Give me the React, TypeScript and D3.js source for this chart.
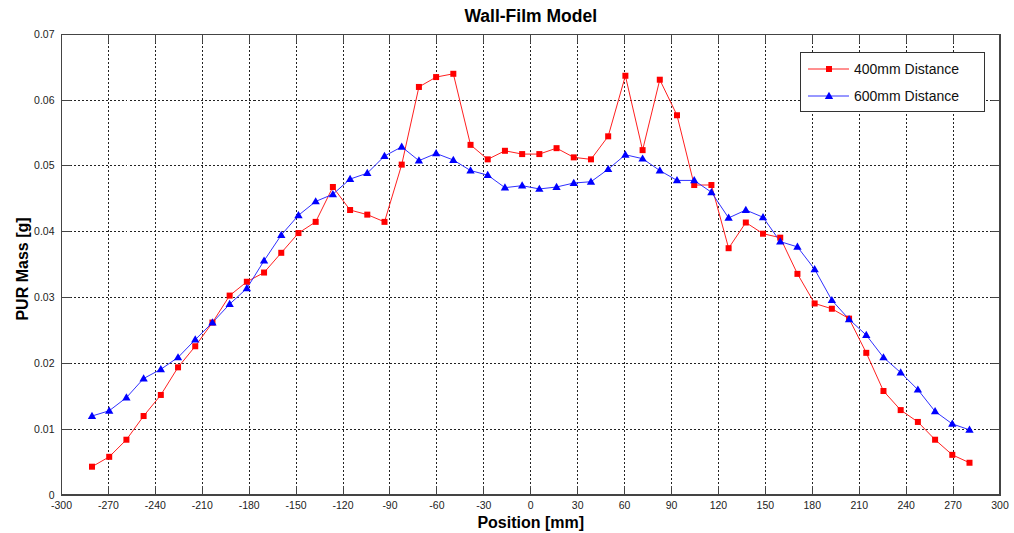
import React from "react";
import * as d3 from "d3";

const positions = [
  -280.5, -269.5, -258.5, -247.5, -236.5, -225.5, -214.5, -203.5, -192.5, -181.5,
  -170.5, -159.5, -148.5, -137.5, -126.5, -115.5, -104.5, -93.5, -82.5, -71.5,
  -60.5, -49.5, -38.5, -27.5, -16.5, -5.5, 5.5, 16.5, 27.5, 38.5,
  49.5, 60.5, 71.5, 82.5, 93.5, 104.5, 115.5, 126.5, 137.5, 148.5,
  159.5, 170.5, 181.5, 192.5, 203.5, 214.5, 225.5, 236.5, 247.5, 258.5,
  269.5, 280.5,
];

const mass400 = [
  0.0043, 0.0058, 0.0084, 0.0120, 0.0152, 0.0194, 0.0226, 0.0262, 0.0303, 0.0324,
  0.0338, 0.0368, 0.0398, 0.0415, 0.0468, 0.0433, 0.0426, 0.0415, 0.0502, 0.0620,
  0.0635, 0.0640, 0.0532, 0.0510, 0.0523, 0.0518, 0.0518, 0.0527, 0.0513, 0.0510,
  0.0545, 0.0637, 0.0524, 0.0631, 0.0577, 0.0471, 0.0471, 0.0375, 0.0414, 0.0397,
  0.0391, 0.0336, 0.0291, 0.0283, 0.0268, 0.0216, 0.0158, 0.0129, 0.0111, 0.0084,
  0.0061, 0.0049,
];

const mass600 = [
  0.0120, 0.0128, 0.0148, 0.0177, 0.0191, 0.0209, 0.0236, 0.0262, 0.0290, 0.0314,
  0.0356, 0.0395, 0.0425, 0.0446, 0.0457, 0.0480, 0.0489, 0.0515, 0.0529, 0.0508,
  0.0519, 0.0509, 0.0493, 0.0486, 0.0467, 0.0470, 0.0465, 0.0468, 0.0474, 0.0476,
  0.0495, 0.0517, 0.0511, 0.0493, 0.0478, 0.0478, 0.0460, 0.0421, 0.0433, 0.0422,
  0.0385, 0.0377, 0.0343, 0.0296, 0.0267, 0.0243, 0.0209, 0.0186, 0.0160, 0.0127,
  0.0108, 0.0099,
];

const xTicks = [-300, -270, -240, -210, -180, -150, -120, -90, -60, -30, 0, 30, 60, 90, 120, 150, 180, 210, 240, 270, 300];
const yTicks = [0, 0.01, 0.02, 0.03, 0.04, 0.05, 0.06, 0.07];
const yTickLabels = ["0", "0.01", "0.02", "0.03", "0.04", "0.05", "0.06", "0.07"];

const seriesNames = ["400mm Distance", "600mm Distance"];
const title = "Wall-Film Model";
const xLabel = "Position [mm]";
const yLabel = "PUR Mass [g]";

const W = 1014;
const H = 533;
const L = 61.5, R = 1000, T = 34.3, B = 495;

export default function App() {
  const x = d3.scaleLinear().domain([-300, 300]).range([L, R]);
  const y = d3.scaleLinear().domain([0, 0.07]).range([B, T]);
  const line = d3
    .line<[number, number]>()
    .x((d) => x(d[0]))
    .y((d) => y(d[1]));
  const d400 = positions.map((p, i) => [p, mass400[i]] as [number, number]);
  const d600 = positions.map((p, i) => [p, mass600[i]] as [number, number]);
  const tri = d3.symbol().type(d3.symbolTriangle).size(30)() as string;
  const font = "Liberation Sans, Arial, sans-serif";
  const tickLen = 9;
  const axisColor = "#444";

  return (
    <svg
      width={W}
      height={H}
      style={{ position: "absolute", left: 0, top: 0, background: "#fff" }}
      fontFamily={font}
    >
      <rect x={0} y={0} width={W} height={H} fill="#fff" />
      {/* grid */}
      {xTicks.slice(1, -1).map((t) => (
        <line key={"gx" + t} x1={x(t)} x2={x(t)} y1={T} y2={B} stroke="#222" strokeWidth={1} strokeDasharray="2,2" shapeRendering="crispEdges" />
      ))}
      {yTicks.slice(1, -1).map((t) => (
        <line key={"gy" + t} x1={L} x2={R} y1={y(t)} y2={y(t)} stroke="#222" strokeWidth={1} strokeDasharray="2,2" shapeRendering="crispEdges" />
      ))}
      {/* ticks */}
      {xTicks.map((t) => (
        <g key={"tx" + t}>
          <line x1={x(t)} x2={x(t)} y1={B} y2={B - tickLen} stroke={axisColor} shapeRendering="crispEdges" />
          <line x1={x(t)} x2={x(t)} y1={T} y2={T + tickLen} stroke={axisColor} shapeRendering="crispEdges" />
          <text x={x(t)} y={509} fontSize={10.5} textAnchor="middle" fill="#222">
            {t}
          </text>
        </g>
      ))}
      {yTicks.map((t, i) => (
        <g key={"ty" + t}>
          <line x1={L} x2={L + tickLen} y1={y(t)} y2={y(t)} stroke={axisColor} shapeRendering="crispEdges" />
          <line x1={R} x2={R - tickLen} y1={y(t)} y2={y(t)} stroke={axisColor} shapeRendering="crispEdges" />
          <text x={54.5} y={y(t) + 3.5} fontSize={10.5} textAnchor="end" fill="#222">
            {yTickLabels[i]}
          </text>
        </g>
      ))}
      {/* box */}
      <rect x={L} y={T} width={R - L} height={B - T} fill="none" stroke={axisColor} strokeWidth={1.3} shapeRendering="crispEdges" />
      {/* series */}
      <path d={line(d400) as string} fill="none" stroke="#ff2020" strokeWidth={1} />
      <path d={line(d600) as string} fill="none" stroke="#3030ff" strokeWidth={1} />
      {d400.map((d, i) => (
        <rect key={"m4" + i} x={x(d[0]) - 3} y={y(d[1]) - 3} width={6} height={6} fill="#ff0000" />
      ))}
      {d600.map((d, i) => (
        <path key={"m6" + i} d={tri} transform={`translate(${x(d[0])},${y(d[1]) + 0.5})`} fill="#0000ff" />
      ))}
      {/* titles */}
      <text x={(L + R) / 2} y={21.5} fontSize={17.5} fontWeight="bold" textAnchor="middle" fill="#000">
        {title}
      </text>
      <text x={(L + R) / 2} y={528} fontSize={16} fontWeight="bold" textAnchor="middle" fill="#000">
        {xLabel}
      </text>
      <text transform={`translate(28,269) rotate(-90)`} fontSize={16} fontWeight="bold" textAnchor="middle" fill="#000">
        {yLabel}
      </text>
      {/* legend */}
      <g>
        <rect x={800.5} y={52.5} width={183.5} height={59} fill="#fff" stroke="#333" strokeWidth={1} shapeRendering="crispEdges" />
        <line x1={808} x2={849} y1={69} y2={69} stroke="#ff2020" strokeWidth={1} />
        <rect x={829 - 3} y={69 - 3} width={6} height={6} fill="#ff0000" />
        <text x={854} y={74} fontSize={14} fill="#111">
          {seriesNames[0]}
        </text>
        <line x1={808} x2={849} y1={96} y2={96} stroke="#3030ff" strokeWidth={1} />
        <path d={tri} transform={`translate(829,96.5)`} fill="#0000ff" />
        <text x={854} y={101} fontSize={14} fill="#111">
          {seriesNames[1]}
        </text>
      </g>
    </svg>
  );
}
